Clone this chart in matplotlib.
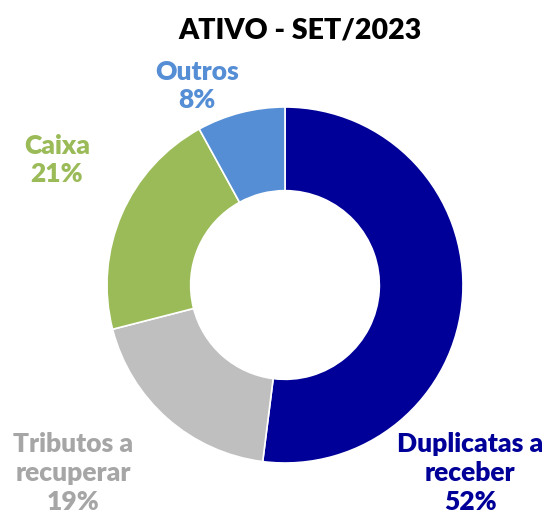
import matplotlib.pyplot as plt

W, H = 547, 520

categories = ['Duplicatas a\nreceber', 'Tributos a\nrecuperar', 'Caixa', 'Outros']
values = [52, 19, 21, 8]
colors = ['#000099', '#BFBFBF', '#9BBB59', '#558ED5']
label_colors = ['#000099', '#A6A6A6', '#9BBB59', '#558ED5']
# label centre positions in pixels (x, y from top)
label_pos = [(470, 473), (73, 473), (57, 160), (197, 86)]

plt.rcParams['font.family'] = ['Lato', 'DejaVu Sans']

fig = plt.figure(figsize=(W / 100, H / 100), dpi=100)
cx, cy, r = 285, 285, 178
ax = fig.add_axes([(cx - r) / W, (H - cy - r) / H, 2 * r / W, 2 * r / H])
ax.pie(values, colors=colors, startangle=90, counterclock=False,
       radius=1.0, wedgeprops=dict(width=0.47, edgecolor='white', linewidth=1.2))
ax.set_xlim(-1, 1)
ax.set_ylim(-1, 1)
ax.set_aspect('equal')
ax.axis('off')

for cat, v, c, (px, py) in zip(categories, values, label_colors, label_pos):
    fig.text(px / W, 1 - py / H, f'{cat}\n{v}%', color=c, fontsize=19,
             fontweight='heavy', ha='center', va='center', linespacing=1.25)

fig.text(300 / W, 1 - 30 / H, 'ATIVO - SET/2023', fontsize=20.5, fontweight='heavy',
         ha='center', va='center', color='black')

fig.savefig('out.png', dpi=100)
